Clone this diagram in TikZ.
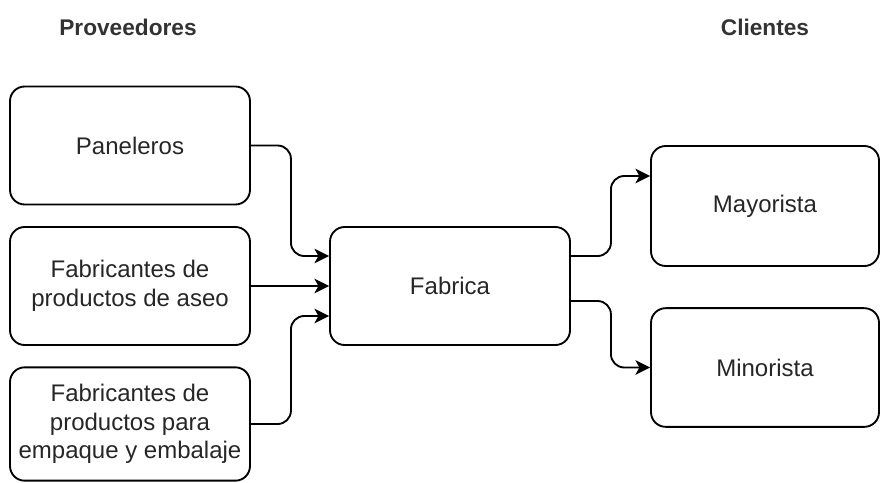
\documentclass[tikz,border=0pt]{standalone}
\usepackage{fontspec}
\setmainfont{Liberation Sans}
\usepackage{tikz}
\usetikzlibrary{arrows.meta,calc}

\tikzset{
    caja/.style={draw, line width=1.4pt, rounded corners=11pt, align=center,
        minimum width=180pt, minimum height=88.5pt, inner sep=2pt,
        font=\fontsize{18}{21.5}\selectfont, text=black!85},
    titulo/.style={font=\bfseries\fontsize{17}{20}\selectfont, text=black!80},
    flecha/.style={-{Stealth[length=11pt,width=11pt,inset=3pt]}, line width=1.4pt, rounded corners=10pt}
}

\begin{document}
\begin{tikzpicture}[x=0.75pt, y=-0.75pt]

    \useasboundingbox (0,0) rectangle (881,482);

    % titulos de las columnas
    \node[titulo] (tprov) at (128,27) {Proveedores};
    \node[titulo] (tcli) at (765,27) {Clientes};

    % proveedores
    \node[caja] (pan) at (130,145.5) {Paneleros};
    \node[caja] (aseo) at (130,286) {Fabricantes de\\productos de aseo};
    \node[caja, minimum height=85pt] (emp) at (130,424) {Fabricantes de\\productos para\\empaque y embalaje};

    % fabrica
    \node[caja] (fab) at (450,286) {Fabrica};

    % clientes
    \node[caja, minimum width=171pt, minimum height=90pt] (may) at (765,206) {Mayorista};
    \node[caja, minimum width=171pt, minimum height=89pt] (min) at (765,367.5) {Minorista};

    % flechas de entrada
    \draw[flecha] (pan.east) -- ++(40,0) |- ($(fab.west)+(0,-30)$);
    \draw[flecha] (aseo.east) -- (fab.west);
    \draw[flecha] (emp.east) -- ++(40,0) |- ($(fab.west)+(0,30)$);

    % flechas de salida
    \draw[flecha] ($(fab.east)+(0,-30)$) -- ++(40,0) |- ($(may.west)+(0,-30)$);
    \draw[flecha] ($(fab.east)+(0,15)$) -- ++(40,0) |- (min.west);

\end{tikzpicture}
\end{document}
